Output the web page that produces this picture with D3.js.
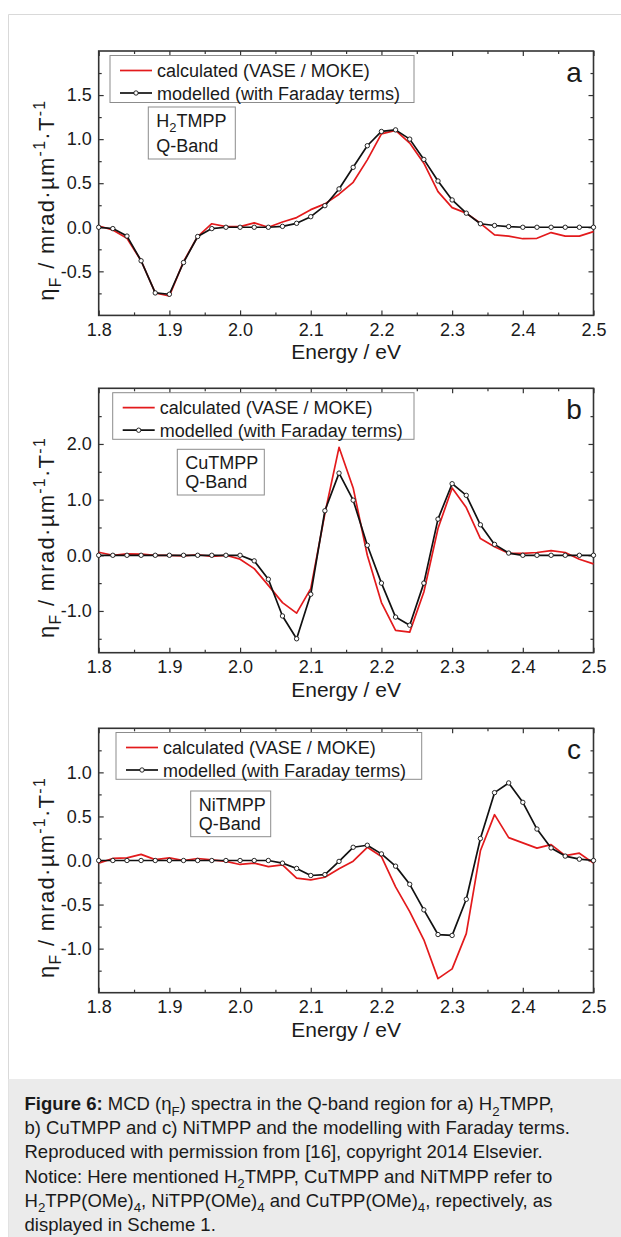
<!DOCTYPE html>
<html>
<head>
<meta charset="utf-8">
<script src="https://cdn.jsdelivr.net/npm/d3@7"></script>
<style>
  body { margin: 0; background: #fff; }
  svg text { font-family: "Liberation Sans", Arial, sans-serif; fill: #1a1a1a; }
</style>
</head>
<body>
<svg id="fig" width="621" height="1237"></svg>
<script>
"use strict";

// Photon energy (eV), one point every 0.02 eV.
const energy = [1.80, 1.82, 1.84, 1.86, 1.88, 1.90, 1.92, 1.94, 1.96, 1.98,
  2.00, 2.02, 2.04, 2.06, 2.08, 2.10, 2.12, 2.14, 2.16, 2.18,
  2.20, 2.22, 2.24, 2.26, 2.28, 2.30, 2.32, 2.34, 2.36, 2.38,
  2.40, 2.42, 2.44, 2.46, 2.48, 2.50];

// a) H2TMPP
const aCalc = [0.015, -0.03, -0.125, -0.38, -0.745, -0.78, -0.39, -0.105, 0.04, 0.008,
  0.008, 0.05, 0.0, 0.06, 0.11, 0.2, 0.265, 0.375, 0.51, 0.765,
  1.06, 1.1, 0.955, 0.727, 0.405, 0.223, 0.16, 0.045, -0.087, -0.1,
  -0.13, -0.125, -0.06, -0.1, -0.1, -0.05];
const aModel = [0.0, -0.015, -0.1, -0.38, -0.745, -0.76, -0.4, -0.105, -0.015, 0.0,
  0.0, 0.0, 0.0, 0.01, 0.045, 0.12, 0.245, 0.435, 0.68, 0.925,
  1.087, 1.105, 1.0, 0.77, 0.525, 0.31, 0.16, 0.04, 0.02, 0.008,
  0.0, 0.0, 0.0, 0.0, 0.0, 0.0];

// b) CuTMPP
const bCalc = [0.054, 0.0, 0.024, 0.02, 0.0, 0.0, -0.01, 0.01, -0.02, 0.0,
  -0.07, -0.24, -0.54, -0.85, -1.04, -0.6, 0.75, 1.94, 1.21, 0.0,
  -0.85, -1.35, -1.38, -0.66, 0.48, 1.21, 0.857, 0.3, 0.155, 0.036,
  0.036, 0.05, 0.083, 0.05, -0.07, -0.155];
const bModel = [0.0, 0.0, 0.0, 0.0, 0.0, 0.0, 0.0, 0.0, 0.0, 0.0,
  0.0, -0.1, -0.43, -1.09, -1.5, -0.7, 0.8, 1.476, 0.99, 0.18,
  -0.5, -1.11, -1.256, -0.5, 0.65, 1.286, 1.077, 0.548, 0.196, 0.04,
  0.0, 0.0, 0.0, 0.0, 0.0, 0.0];

// c) NiTMPP
const cCalc = [-0.03, 0.023, 0.03, 0.07, 0.01, 0.03, 0.0, 0.023, 0.007, -0.01,
  -0.045, -0.03, -0.07, -0.05, -0.2, -0.22, -0.19, -0.094, -0.008, 0.15,
  0.045, -0.3, -0.58, -0.9, -1.34, -1.23, -0.83, 0.11, 0.52, 0.26,
  0.2, 0.14, 0.18, 0.056, 0.083, -0.03];
const cModel = [0.0, 0.0, 0.0, 0.0, 0.0, 0.0, 0.0, 0.0, 0.0, 0.0,
  0.0, 0.0, 0.0, -0.03, -0.09, -0.17, -0.16, -0.01, 0.15, 0.173,
  0.075, -0.064, -0.27, -0.56, -0.84, -0.85, -0.44, 0.25, 0.77, 0.88,
  0.66, 0.357, 0.143, 0.05, 0.015, 0.0];

const xMajor = [1.8, 1.9, 2.0, 2.1, 2.2, 2.3, 2.4, 2.5];
const xMinor = [1.85, 1.95, 2.05, 2.15, 2.25, 2.35, 2.45];

const legendLabels = ["calculated (VASE / MOKE)", "modelled (with Faraday terms)"];

// Page layout for the three stacked panels.
const plotLeft = 98.7, plotRight = 593.5, plotHeight = 264.4;

const panels = [
  { letter: "a", top: 51, yDomain: [-1, 2],
    yMajor: [-0.5, 0, 0.5, 1, 1.5], yMinor: [-0.75, -0.25, 0.25, 0.75, 1.25, 1.75],
    calc: aCalc, model: aModel, sample: [["H"], ["2", "sub"], ["TMPP"]],
    legend: { x: 110, y: 55.5, w: 304, h: 47 }, box: { x: 148.3, y: 107, w: 87, h: 52 } },
  { letter: "b", top: 388.3, yDomain: [-1.75, 3],
    yMajor: [-1, 0, 1, 2], yMinor: [-1.5, -0.5, 0.5, 1.5, 2.5],
    calc: bCalc, model: bModel, sample: [["CuTMPP"]],
    legend: { x: 112.7, y: 392.7, w: 301.3, h: 46.6 }, box: { x: 177.3, y: 449.3, w: 87, h: 45.7 } },
  { letter: "c", top: 728.3, yDomain: [-1.5, 1.5],
    yMajor: [-1, -0.5, 0, 0.5, 1], yMinor: [-1.25, -0.75, -0.25, 0.25, 0.75, 1.25],
    calc: cCalc, model: cModel, sample: [["NiTMPP"]],
    legend: { x: 116, y: 732.5, w: 305.7, h: 46.8 }, box: { x: 190.7, y: 791, w: 80, h: 45.7 } }
];

const red = "#e31a1c";
const axisColour = "#333";

let svg = d3.select("#fig");

// Light frame round the figure.
svg.append("path")
  .attr("d", "M8.5,1237 V14.5 H621")
  .attr("fill", "none")
  .attr("stroke", "#d9d9d9")
  .attr("stroke-width", 1);

// Write a list of [text, style] runs into a text node; style is "sub", "sup" or "b".
function writeRuns(textSel, runs, size) {
  let shift = 0;
  runs.forEach(r => {
    let t = textSel.append("tspan").text(r[0]);
    let want = 0;
    if (r[1] == "sub") want = size * 0.3;
    if (r[1] == "sup") want = -size * 0.4;
    if (want != shift) t.attr("dy", want - shift);
    shift = want;
    if (r[1] == "sub" || r[1] == "sup") t.style("font-size", (size * 0.72) + "px");
    if (r[1] == "b") t.style("font-weight", "bold");
  });
  if (shift != 0) textSel.append("tspan").attr("dy", -shift).text("");
}

let x = d3.scaleLinear().domain([1.8, 2.5]).range([plotLeft, plotRight]);

panels.forEach(p => {
  let bottom = p.top + plotHeight;
  let y = d3.scaleLinear().domain(p.yDomain).range([bottom, p.top]);
  let g = svg.append("g");

  let fmt = d => d.toFixed(1);

  // Inward ticks on all four sides, labels only bottom and left.
  let axes = [
    [d3.axisBottom(x).tickValues(xMajor).tickSize(-5).tickPadding(8).tickFormat(fmt), `translate(0,${bottom})`],
    [d3.axisBottom(x).tickValues(xMinor).tickSize(-3).tickFormat(""), `translate(0,${bottom})`],
    [d3.axisTop(x).tickValues(xMajor).tickSize(-5).tickFormat(""), `translate(0,${p.top})`],
    [d3.axisTop(x).tickValues(xMinor).tickSize(-3).tickFormat(""), `translate(0,${p.top})`],
    [d3.axisLeft(y).tickValues(p.yMajor).tickSize(-5).tickPadding(7).tickFormat(fmt), `translate(${plotLeft},0)`],
    [d3.axisLeft(y).tickValues(p.yMinor).tickSize(-3).tickFormat(""), `translate(${plotLeft},0)`],
    [d3.axisRight(y).tickValues(p.yMajor).tickSize(-5).tickFormat(""), `translate(${plotRight},0)`],
    [d3.axisRight(y).tickValues(p.yMinor).tickSize(-3).tickFormat(""), `translate(${plotRight},0)`]
  ];
  axes.forEach(a => {
    let ag = g.append("g").attr("transform", a[1]).call(a[0]);
    ag.select(".domain").remove();
    ag.selectAll("line").attr("stroke", axisColour).attr("stroke-width", 1.2);
    ag.selectAll("text")
      .style("font-family", '"Liberation Sans", Arial, sans-serif')
      .style("font-size", "18px")
      .attr("fill", "#1a1a1a");
  });

  g.append("rect")
    .attr("x", plotLeft).attr("y", p.top)
    .attr("width", plotRight - plotLeft).attr("height", plotHeight)
    .attr("fill", "none")
    .attr("stroke", axisColour)
    .attr("stroke-width", 1.6);

  // Axis titles.
  g.append("text")
    .attr("x", (plotLeft + plotRight) / 2)
    .attr("y", bottom + 44)
    .attr("text-anchor", "middle")
    .style("font-size", "21px")
    .text("Energy / eV");

  let yTitle = g.append("text")
    .attr("transform", `translate(54,${p.top + plotHeight / 2 + 17}) rotate(-90)`)
    .attr("text-anchor", "middle")
    .style("font-size", "22px")
    .style("letter-spacing", "1.3px");
  writeRuns(yTitle, [["η"], ["F", "sub"], [" / mrad·µm"], ["-1", "sup"], ["·T"], ["-1", "sup"]], 22);

  // Data lines, calculated under modelled.
  let pts = vals => vals.map((v, i) => [energy[i], v]);
  let line = d3.line().x(d => x(d[0])).y(d => y(d[1]));

  g.append("path")
    .datum(pts(p.calc))
    .attr("d", line)
    .attr("fill", "none")
    .attr("stroke", red)
    .attr("stroke-width", 1.7)
    .attr("stroke-linejoin", "round");

  g.append("path")
    .datum(pts(p.model))
    .attr("d", line)
    .attr("fill", "none")
    .attr("stroke", "#111")
    .attr("stroke-width", 1.7)
    .attr("stroke-linejoin", "round");

  g.selectAll("circle.m")
    .data(pts(p.model))
    .enter()
    .append("circle")
    .attr("class", "m")
    .attr("cx", d => x(d[0]))
    .attr("cy", d => y(d[1]))
    .attr("r", 2.2)
    .attr("fill", "#fff")
    .attr("stroke", "#111")
    .attr("stroke-width", 0.9);

  // Legend.
  let L = p.legend;
  g.append("rect")
    .attr("x", L.x).attr("y", L.y).attr("width", L.w).attr("height", L.h)
    .attr("fill", "#fff").attr("stroke", "#8c8c8c").attr("stroke-width", 1);
  let row1 = L.y + 15, row2 = L.y + 37.5;
  g.append("line")
    .attr("x1", L.x + 10).attr("x2", L.x + 42).attr("y1", row1).attr("y2", row1)
    .attr("stroke", red).attr("stroke-width", 1.7);
  g.append("line")
    .attr("x1", L.x + 10).attr("x2", L.x + 42).attr("y1", row2).attr("y2", row2)
    .attr("stroke", "#111").attr("stroke-width", 1.7);
  g.append("circle")
    .attr("cx", L.x + 26).attr("cy", row2).attr("r", 2.2)
    .attr("fill", "#fff").attr("stroke", "#111").attr("stroke-width", 0.9);
  legendLabels.forEach((t, i) => {
    g.append("text")
      .attr("x", L.x + 47)
      .attr("y", (i == 0 ? row1 : row2) + 6.5)
      .style("font-size", "18px")
      .text(t);
  });

  // Panel letter.
  g.append("text")
    .attr("x", 574)
    .attr("y", p.top + 31)
    .attr("text-anchor", "middle")
    .style("font-size", "28px")
    .text(p.letter);

  // Sample label box.
  let B = p.box;
  g.append("rect")
    .attr("x", B.x).attr("y", B.y).attr("width", B.w).attr("height", B.h)
    .attr("fill", "#fff").attr("stroke", "#8c8c8c").attr("stroke-width", 1);
  let s1 = g.append("text")
    .attr("x", B.x + 8)
    .attr("y", B.y + 20)
    .style("font-size", "18px");
  writeRuns(s1, p.sample, 18);
  g.append("text")
    .attr("x", B.x + 8)
    .attr("y", B.y + B.h - 7)
    .style("font-size", "18px")
    .text("Q-Band");
});

// Caption block.
const captionLines = [
  [["Figure 6:", "b"], [" MCD (η"], ["F", "sub"], [") spectra in the Q-band region for a) H"], ["2", "sub"], ["TMPP,"]],
  [["b) CuTMPP and c) NiTMPP and the modelling with Faraday terms."]],
  [["Reproduced with permission from [16], copyright 2014 Elsevier."]],
  [["Notice: Here mentioned H"], ["2", "sub"], ["TMPP, CuTMPP and NiTMPP refer to"]],
  [["H"], ["2", "sub"], ["TPP(OMe)"], ["4", "sub"], [", NiTPP(OMe)"], ["4", "sub"], [" and CuTPP(OMe)"], ["4", "sub"], [", repectively, as"]],
  [["displayed in Scheme 1."]]
];

svg.append("rect")
  .attr("x", 8.5).attr("y", 1079)
  .attr("width", 621 - 8.5).attr("height", 1237 - 1079)
  .attr("fill", "#ebebeb");

captionLines.forEach((runs, i) => {
  let t = svg.append("text")
    .attr("x", 24.5)
    .attr("y", 1110 + i * 24.2)
    .style("font-size", "18.5px");
  writeRuns(t, runs, 18.5);
});
</script>
</body>
</html>
